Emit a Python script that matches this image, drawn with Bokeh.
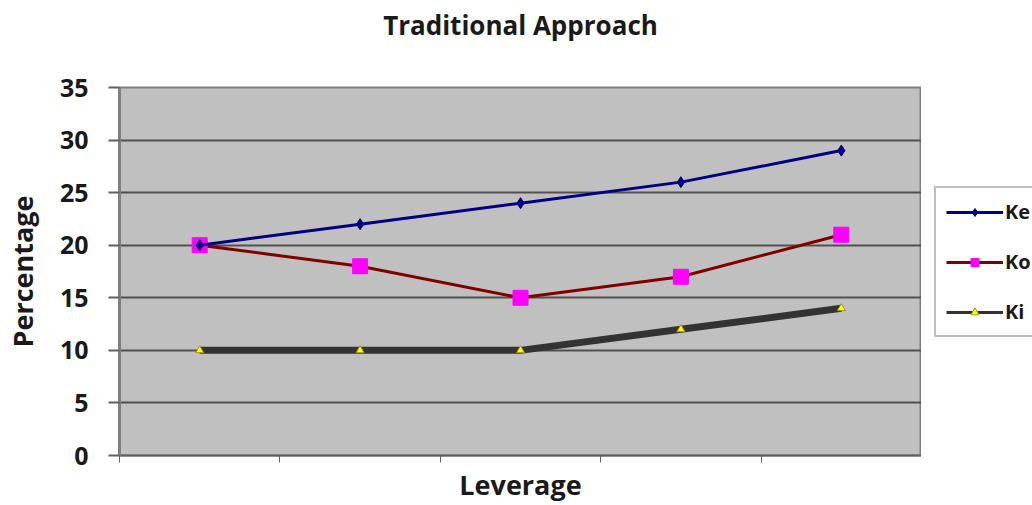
from bokeh.plotting import figure
from bokeh.layouts import row
from bokeh.models import Range1d, FixedTicker, Legend, LegendItem, Title
from bokeh.embed import file_html
from bokeh.resources import INLINE

# Cost of capital at five increasing levels of leverage
leverage_steps = [1, 2, 3, 4, 5]
ke = [20, 22, 24, 26, 29]   # cost of equity
ko = [20, 18, 15, 17, 21]   # overall cost of capital
ki = [10, 10, 10, 12, 14]   # cost of debt
series_names = ["Ke", "Ko", "Ki"]
y_ticks = [0, 5, 10, 15, 20, 25, 30, 35]

FONT = "Open Sans"
TEXT = "#1a1a1a"

# line / marker styles shared by the chart and its key
STYLES = [
    dict(line=dict(line_color="#000080", line_width=3),
         mark=dict(marker="diamond", size=11, fill_color="#000080", line_color="#000080")),
    dict(line=dict(line_color="#800000", line_width=3),
         mark=dict(marker="square", size=15, fill_color="#FF00FF", line_color="#FF00FF")),
    dict(line=dict(line_color="#333333", line_width=7),
         mark=dict(marker="triangle", size=8, fill_color="#FFFF00", line_color="#9a9a20", line_width=1)),
]
SERIES = [ke, ko, ki]

# each leverage step sits in the middle of its own band
x = [s - 0.5 for s in leverage_steps]
band_edges = [0] + leverage_steps

p = figure(
    width=921, height=505, output_backend="svg", toolbar_location=None,
    x_range=Range1d(0, len(leverage_steps)), y_range=Range1d(0, 35),
    min_border_left=118, min_border_right=0, min_border_top=0, min_border_bottom=49,
    background_fill_color="#C0C0C0", border_fill_color="white",
    outline_line_color="#808080", outline_line_width=2,
)

p.title.text = "Traditional Approach"
p.title.align = "center"
p.title.offset = -7
p.title.text_font = FONT
p.title.text_font_size = "26px"
p.title.text_font_style = "bold"
p.title.text_color = TEXT
p.title.standoff = 9

# blank band between the heading and the plotting area
p.add_layout(Title(text=" ", text_font_size="10px", standoff=27), "above")

# axes
p.xaxis.ticker = FixedTicker(ticks=band_edges)
p.xaxis.major_label_overrides = {e: "" for e in band_edges}
p.xaxis.major_label_text_font_size = "1px"
p.xaxis.major_tick_out = 7
p.xaxis.major_tick_in = 0
p.xaxis.minor_tick_line_color = None
p.xaxis.axis_line_color = "#606060"
p.xaxis.axis_line_width = 2
p.xaxis.major_tick_line_color = "#606060"
p.xaxis.axis_label = "Leverage"
p.xaxis.axis_label_text_font = FONT
p.xaxis.axis_label_text_font_size = "27px"
p.xaxis.axis_label_text_font_style = "bold"
p.xaxis.axis_label_text_color = TEXT
p.xaxis.axis_label_standoff = 3

p.yaxis.ticker = FixedTicker(ticks=y_ticks)
p.yaxis.major_tick_out = 11
p.yaxis.major_tick_in = 0
p.yaxis.minor_tick_line_color = None
p.yaxis.axis_line_color = "#808080"
p.yaxis.axis_line_width = 3
p.yaxis.major_tick_line_color = "#606060"
p.yaxis.major_tick_line_width = 2
p.yaxis.major_label_text_font = FONT
p.yaxis.major_label_text_font_size = "25px"
p.yaxis.major_label_text_font_style = "bold"
p.yaxis.major_label_text_color = TEXT
p.yaxis.major_label_standoff = 20
p.yaxis.axis_label = "Percentage"
p.yaxis.axis_label_text_font = FONT
p.yaxis.axis_label_text_font_size = "27px"
p.yaxis.axis_label_text_font_style = "bold"
p.yaxis.axis_label_text_color = TEXT
p.yaxis.axis_label_standoff = 16

p.xgrid.visible = False
p.ygrid.ticker = FixedTicker(ticks=y_ticks)
p.ygrid.grid_line_color = "#505050"
p.ygrid.grid_line_width = 2

# series: thick cost-of-debt line first so the others sit on top
for i in (2, 1, 0):
    p.line(x, SERIES[i], **STYLES[i]["line"])
    p.scatter(x, SERIES[i], **STYLES[i]["mark"])

# key panel to the right of the chart; its renderers only feed the legend swatches
k = figure(
    width=111, height=505, output_backend="svg", toolbar_location=None,
    x_range=Range1d(0, 1), y_range=Range1d(0, 1),
    x_axis_type=None, y_axis_type=None,
    min_border=0, outline_line_color=None,
    background_fill_color="white", border_fill_color="white",
)
k.grid.visible = False

items = []
for name, values, style in zip(series_names, SERIES, STYLES):
    line_style = dict(style["line"], line_width=3)
    ln = k.line(x, values, visible=False, **line_style)
    mk = k.scatter(x, values, visible=False, **style["mark"])
    items.append(LegendItem(label=name, renderers=[ln, mk]))

legend = Legend(
    items=items,
    location=(13, 118),
    border_line_color="#808080", border_line_width=2,
    background_fill_color="white", background_fill_alpha=1,
    inactive_fill_alpha=0,
    label_text_font=FONT, label_text_font_size="20px", label_text_font_style="bold",
    label_text_color=TEXT,
    glyph_width=57, glyph_height=20, label_height=20, label_standoff=2,
    spacing=23, padding=10, margin=0,
)
k.add_layout(legend)

layout = row(p, k, spacing=0)
open("out.html", "w").write(file_html(layout, INLINE))
